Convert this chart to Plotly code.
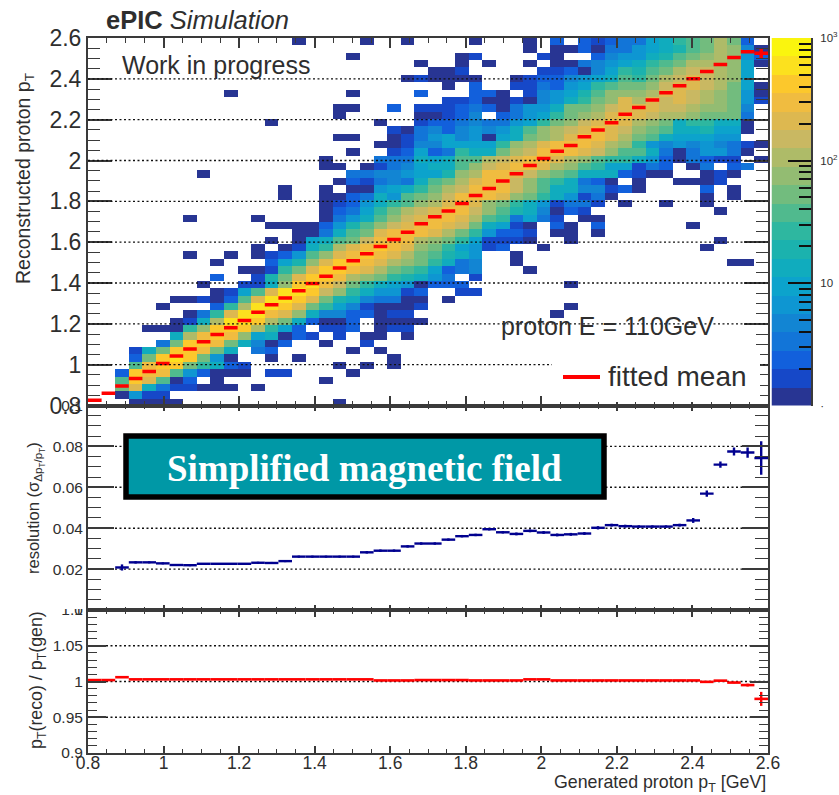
import numpy as np
import plotly.graph_objects as go

W, H = 839, 795
XMIN, XMAX = 0.8, 2.6
NBINS = 50
x_edges = np.linspace(XMIN, XMAX, NBINS + 1)
x_centers = (x_edges[:-1] + x_edges[1:]) / 2
y_centers = x_centers.copy()

# Colour-band index of each cell (1..9,a..k), '.' = empty.
# First string = top row (pT reco ~ 2.6), last string = bottom row (~ 0.8). Columns: 10 per group.
band_rows = [
".......... .....1.... 1..1....1. ..1.3.3234 478abcec3.",
".......... .......... .......... ..1.113144 6789bced51",
".......... .........1 .......12. ...21..356 689bcded63",
".......... .......... ....1..1.1 ..1.114567 8abceeed71",
".......... .......... .....112.. ...223157a 9bceffed7.",
".......... .......... ...121111. .12335678b acefgfed7.",
".......... .......... ......1.3. .224367abc cdfggfec71",
".......... 1........1 ....3...33 1.25679bdd deggfedc61",
".......... .......... ......2231 121568acdg egfgfedc62",
".......... ........11 ..3.222343 14668ccdfg ggffeddc5.",
".......... ........1. ....11235. 3467acdegh gfeedccc4.",
".......... ...1...... .1..233454 467acdfghg edc8aa881.",
".......... .......... ..21453565 68bdefghgf dcb889771.",
".......... ........11 ..12467561 78cdeghhge cb877766..",
".......... .......... .112557777 adeghhhged a656565421",
".......... .........1 ..23734a88 cefhhhgfdb b84146641.",
".......... .......1.. .444878bbe fghhgedbaa 86314322.1",
".......... .......11. 1245788bdf ghhgedba77 243.14.34.",
"........1. .........4 4556779deh hgfdcb8883 211..121..",
".......... ........13 24548bcegh hfdba8431. 1..1112...",
".......... ....1..1.1 1678acefhh hfdb885523 1....3.1..",
".......... ....1..113 486bcdfhhh gdca86241. .....1.1..",
".......... .......123 68abdeghgd ca862442.1 ..1..1....",
".......... .......134 7acefghhfd b985132... ......1...",
".......1.. ..1....146 8bdfghhgeb a4742.11.. ..........",
".......... ...1111369 bdfghhgfc8 721.31.3.. ....1.....",
".......... .....1148b cghhhgeca6 332.11.1.. ..........",
".......... ...1.178bc fhhhedca72 221..1.... ......1...",
".......... ..1.128aeg hihgdca762 3..1...... .....1....",
".......1.. 1.1236bdgh ihgecb986. .1........ ..........",
".........1 ...379dgii hgedca845. .1........ .......11.",
".......... .112acgiih gecba7345. ..1....... ..........",
".........3 ..29cgiihe dca9864.2. .......... ..........",
"........1. .228dijhfc a8761333.. .....1.... ..........",
".........1 27bgjjifda 86623..22. .......... ..........",
"......1121 3bgjjigc98 54411.1... .......... ..........",
".....1...3 aejjigca75 21112..... .....1.... ..........",
".......14a gjjhgd8553 3122...... ....1..... ..........",
"......128e jjiec83113 .1111..... .......... ..........",
"....111adi iiea73.223 .122...... .......... ..........",
"......8ehi hd78132.2. 11.1...... .......... ..........",
".....4ciih c8513..1.. 2......... .......... ..........",
"...28ciihc 8.43.....1 .1........ .......... ..........",
"...3cijic6 1..1.1.... ..1....... .......... ..........",
"...bhiica8 32......1. 1.1....... .......... ..........",
"..3ihhb631 11.22....1 .......... .......... ..........",
"..bigb13.1 .......1.. .......... .......... ..........",
"..cg842211 1.1....... .......... .......... ..........",
"..1622.... .......... .......... .......... ..........",
"...1111... ........1. .......... .......... ..........",
]
BAND_CHARS = "123456789abcdefghijk"

band_colors = [
    "#283593", "#1648C8", "#1260DC", "#1275D8", "#1285D3",
    "#0E96D2", "#0CA3CC", "#10ACBE", "#1BB2AE", "#2EB7A0",
    "#50BA8E", "#72BC7E", "#93BC72", "#AEBB68", "#C9B862",
    "#DDB850", "#F0BC40", "#FCC82C", "#FCE11E", "#FAF50E",
]

fitted_mean = [
    0.826, 0.860, 0.896, 0.932, 0.966, 1.006, 1.042, 1.077, 1.112, 1.148,
    1.181, 1.216, 1.257, 1.293, 1.327, 1.362, 1.398, 1.433, 1.473, 1.509,
    1.543, 1.579, 1.613, 1.649, 1.690, 1.725, 1.753, 1.789, 1.829, 1.863,
    1.899, 1.935, 1.976, 2.010, 2.045, 2.073, 2.116, 2.150, 2.185, 2.226,
    2.260, 2.296, 2.332, 2.366, 2.400, 2.436, 2.470, 2.504, 2.533, 2.525,
]
fitted_mean_err = [0.0] * 49 + [0.025]

resolution = [
    None, None, 0.0208, 0.0233, 0.0233, 0.0228, 0.0220, 0.0219, 0.0226, 0.0226,
    0.0226, 0.0226, 0.0231, 0.0230, 0.0239, 0.0261, 0.0261, 0.0261, 0.0261, 0.0261,
    0.0282, 0.0290, 0.0290, 0.0311, 0.0325, 0.0325, 0.0344, 0.0361, 0.0367, 0.0395,
    0.0380, 0.0372, 0.0387, 0.0379, 0.0367, 0.0370, 0.0374, 0.0402, 0.0415, 0.0410,
    0.0408, 0.0408, 0.0408, 0.0415, 0.0438, 0.0569, 0.0711, 0.0775, 0.0770, 0.0743,
]
resolution_err = [
    0, 0, 0.0015, 0.0006, 0.0005, 0.0005, 0.0005, 0.0005, 0.0004, 0.0004,
    0.0004, 0.0004, 0.0005, 0.0005, 0.0005, 0.0005, 0.0005, 0.0005, 0.0005, 0.0005,
    0.0006, 0.0006, 0.0006, 0.0006, 0.0006, 0.0006, 0.0006, 0.0006, 0.0006, 0.0006,
    0.0006, 0.0007, 0.0007, 0.0007, 0.0007, 0.0007, 0.0007, 0.0008, 0.0007, 0.0007,
    0.0006, 0.0006, 0.0006, 0.0007, 0.0012, 0.0015, 0.0015, 0.0020, 0.0025, 0.0082,
]

ratio = [
    1.002, 1.002, 1.006, 1.003, 1.003, 1.003, 1.003, 1.003, 1.003, 1.003,
    1.003, 1.003, 1.003, 1.003, 1.003, 1.003, 1.003, 1.003, 1.003, 1.003,
    1.003, 1.0015, 1.0015, 1.0015, 1.002, 1.002, 1.002, 1.002, 1.0015, 1.0015,
    1.0015, 1.0015, 1.003, 1.003, 1.0015, 1.0015, 1.0015, 1.0015, 1.0015, 1.0015,
    1.0015, 1.0015, 1.0015, 1.0015, 1.0015, 0.9995, 1.0012, 0.9985, 0.995, 0.9757,
]
ratio_err = [0.0005] * 45 + [0.0006, 0.0008, 0.001, 0.002, 0.0098]

main_grid = [1.0, 1.2, 1.4, 1.6, 1.8, 2.0, 2.2, 2.4]
res_grid = [0.02, 0.04, 0.06, 0.08]
ratio_grid = [0.95, 1.0, 1.05]

cbar_major = [0, 1, 2, 3]
cbar_labels = ["·", "10", "10<sup>2</sup>", "10<sup>3</sup>"]
cbar_minor_counts = [2, 3, 4, 5, 6, 7, 8, 9, 20, 30, 40, 50, 60, 70, 80, 90, 200, 300, 400, 500, 600, 700, 800, 900]

FONT = "Liberation Sans"
TXT = "#2e2e2e"
AXC = "#3a3a3a"


def fx(px):
    return px / W


def fy(py):
    return 1 - py / H


# --- decode grid
clean = [r.replace(" ", "") for r in band_rows]
for i, r in enumerate(clean):
    assert len(r) == NBINS, (i, len(r))
assert len(clean) == NBINS
grid = [[(BAND_CHARS.index(ch) + 1) if ch != "." else None for ch in r] for r in reversed(clean)]

n = len(band_colors)
colorscale = []
for i, c in enumerate(band_colors):
    colorscale.append([i / n, c])
    colorscale.append([(i + 1) / n, c])

fig = go.Figure()
fig.add_trace(go.Heatmap(x=x_centers, y=y_centers, z=grid, colorscale=colorscale, zmin=0.5, zmax=n + 0.5,
                         showscale=False, hoverinfo="skip", xaxis="x", yaxis="y"))
fig.add_trace(go.Scatter(x=x_centers, y=fitted_mean, mode="markers", marker=dict(size=1, color="#ff0000"),
                         error_x=dict(type="constant", value=0.018, color="#ff0000", thickness=3.5, width=0),
                         error_y=dict(type="data", array=fitted_mean_err, color="#ff0000", thickness=3.5, width=0),
                         hoverinfo="skip", xaxis="x", yaxis="y"))
fig.add_trace(go.Scatter(x=x_centers, y=resolution, mode="markers", marker=dict(size=1, color="#00008f"),
                         error_x=dict(type="constant", value=0.018, color="#00008f", thickness=2.4, width=0),
                         error_y=dict(type="data", array=resolution_err, color="#00008f", thickness=2.4, width=0),
                         hoverinfo="skip", xaxis="x2", yaxis="y2"))
fig.add_trace(go.Scatter(x=x_centers, y=ratio, mode="markers", marker=dict(size=1, color="#ff0000"),
                         error_x=dict(type="constant", value=0.018, color="#ff0000", thickness=2.6, width=0),
                         error_y=dict(type="data", array=ratio_err, color="#ff0000", thickness=2.4, width=0),
                         hoverinfo="skip", xaxis="x3", yaxis="y3"))
# palette strip
band_edges = [3 * k / n for k in range(n + 1)]
fig.add_trace(go.Heatmap(x=[0, 1], y=band_edges, z=[[k + 1] for k in range(n)], colorscale=colorscale,
                         zmin=0.5, zmax=n + 0.5, showscale=False, hoverinfo="skip", xaxis="x4", yaxis="y4"))


def x_axis(domain_anchor, major, minor, labels=False):
    return dict(domain=[fx(88), fx(768)], range=[XMIN, XMAX], anchor=domain_anchor, tick0=XMIN, dtick=0.2,
                ticks="inside", ticklen=major, tickwidth=1.6, tickcolor=AXC, showline=True, linecolor=AXC,
                linewidth=2, mirror="allticks", showgrid=False, zeroline=False, showticklabels=labels,
                ticklabelstandoff=-7, automargin=False, tickfont=dict(family=FONT, size=17.5, color=TXT),
                minor=dict(ticks="inside", ticklen=minor, dtick=0.05, tick0=XMIN, tickwidth=1.4, tickcolor=AXC,
                           showgrid=False))


def y_axis(domain, rng, anchor, tick0, dtick, major, minor, mdtick, size):
    return dict(domain=domain, range=rng, anchor=anchor, tick0=tick0, dtick=dtick, ticks="inside", ticklen=major,
                tickwidth=1.6, tickcolor=AXC, showline=True, linecolor=AXC, linewidth=2, mirror="allticks",
                showgrid=False, zeroline=False, automargin=False, tickfont=dict(family=FONT, size=size, color=TXT),
                minor=dict(ticks="inside", ticklen=minor, dtick=mdtick, tick0=tick0, tickwidth=1.4, tickcolor=AXC,
                           showgrid=False))


shapes = []
for v in main_grid:
    shapes.append(dict(type="line", xref="x", yref="y", x0=XMIN, x1=XMAX, y0=v, y1=v, layer="above",
                       line=dict(color="#111", width=1.4, dash="2px,2.5px")))
for v in res_grid:
    shapes.append(dict(type="line", xref="x2", yref="y2", x0=XMIN, x1=XMAX, y0=v, y1=v, layer="below",
                       line=dict(color="#111", width=1.4, dash="2px,2.5px")))
for v in ratio_grid:
    shapes.append(dict(type="line", xref="x3", yref="y3", x0=XMIN, x1=XMAX, y0=v, y1=v, layer="below",
                       line=dict(color="#111", width=1.4, dash="2px,2.5px")))
# legend background
shapes.append(dict(type="rect", xref="paper", yref="paper", x0=fx(552), x1=fx(760), y0=fy(402), y1=fy(350),
                   layer="above", fillcolor="white", line=dict(width=0)))
shapes.append(dict(type="line", xref="paper", yref="paper", x0=fx(563), x1=fx(600), y0=fy(377), y1=fy(377),
                   layer="above", line=dict(color="#ff0000", width=4)))
# clipped labels at panel joint
shapes.append(dict(type="rect", xref="paper", yref="paper", x0=fx(55), x1=fx(86), y0=fy(609), y1=fy(600),
                   layer="above", fillcolor="white", line=dict(width=0)))
# teal banner
shapes.append(dict(type="rect", xref="paper", yref="paper", x0=fx(126), x1=fx(604), y0=fy(497), y1=fy(436),
                   layer="above", fillcolor="#0098A6", line=dict(color="black", width=5.5)))


def note(px, py, text, size, xanchor="left", color=TXT, family=FONT, angle=0):
    return dict(xref="paper", yref="paper", x=fx(px), y=fy(py), text=text, showarrow=False, xanchor=xanchor,
                yanchor="middle", textangle=angle, font=dict(family=family, size=size, color=color))


annotations = [
    note(104, 20, "<b>ePIC</b> <i>Simulation</i>", 25.5),
    note(120, 65, "Work in progress", 25),
    note(499, 326, "proton E = 110GeV", 25),
    note(606, 376, "fitted mean", 28),
    note(364, 468, "<b>Simplified magnetic field</b>", 37, xanchor="center", color="white", family="Liberation Serif"),
    note(25, 178, "Reconstructed proton p<sub>T</sub>", 19.5, xanchor="center", angle=-90),
    note(35, 508, "resolution (σ<sub>Δp<sub>T</sub>/p<sub>T</sub></sub>)", 16.6, xanchor="center", angle=-90),
    note(37, 680, "p<sub>T</sub>(reco) / p<sub>T</sub>(gen)", 17.8, xanchor="center", angle=-90),
    note(768, 783, "Generated proton p<sub>T</sub> [GeV]", 17.8, xanchor="right"),
]

layout = dict(
    width=W, height=H, autosize=False, margin=dict(l=0, r=0, t=0, b=0), paper_bgcolor="white", plot_bgcolor="white",
    showlegend=False, shapes=shapes, annotations=annotations,
    xaxis=x_axis("y", 10, 5),
    yaxis=y_axis([fy(405.5), fy(38)], [0.8, 2.6], "x", 0.8, 0.2, 24, 12, 0.05, 23),
    xaxis2=x_axis("y2", 5, 3),
    yaxis2=y_axis([fy(610), fy(405.5)], [0, 0.1], "x2", 0, 0.02, 26, 13, 0.005, 15.5),
    xaxis3=x_axis("y3", 7, 4, labels=True),
    yaxis3=y_axis([fy(753), fy(610)], [0.9, 1.1], "x3", 0.9, 0.05, 18, 9, 0.01, 15.5),
    xaxis4=dict(domain=[fx(771.5), fx(811)], range=[0, 1], anchor="y4", visible=False, fixedrange=True, automargin=False),
    yaxis4=dict(domain=[fy(405.5), fy(38)], range=[0, 3], anchor="x4", side="right", tickmode="array",
                tickvals=cbar_major, ticktext=cbar_labels, ticks="inside", ticklen=23, tickwidth=1.6, tickcolor="#111",
                showline=True, linecolor=AXC, linewidth=2, showgrid=False, zeroline=False, ticklabelstandoff=5,
                automargin=False, tickfont=dict(family=FONT, size=11.5, color=TXT),
                minor=dict(ticks="inside", ticklen=12, tickmode="array", tickvals=list(np.log10(cbar_minor_counts)),
                           tickwidth=1.6, tickcolor="#111", showgrid=False)),
)
fig.update_layout(**layout)
fig.write_html("out.html", config={"displayModeBar": False},
               post_script="document.body.style.margin='0';document.documentElement.style.overflow='hidden';")
